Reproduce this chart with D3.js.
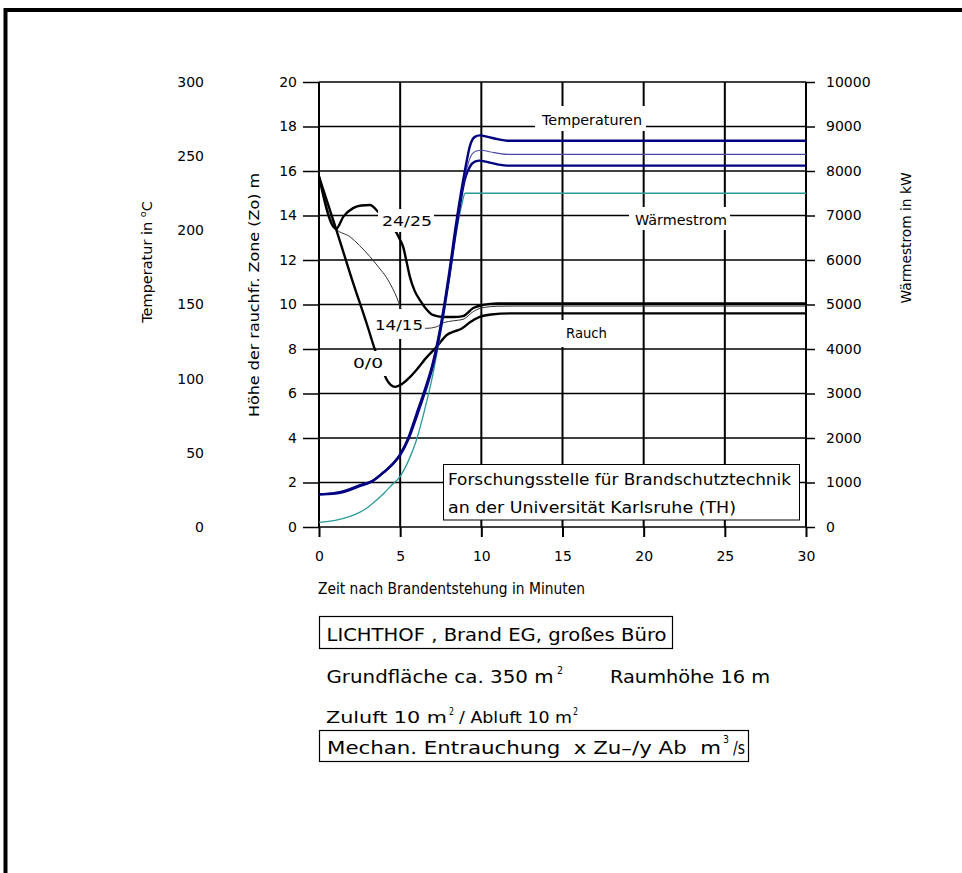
<!DOCTYPE html>
<html><head><meta charset="utf-8">
<script src="https://cdn.jsdelivr.net/npm/d3@7/dist/d3.min.js"></script>
<style>
body{margin:0;background:#fff}
svg{display:block;font-family:"DejaVu Sans",sans-serif}
text{white-space:pre}
</style>
</head><body><script>
// ---------- data ----------
const timeTicks = [0, 5, 10, 15, 20, 25, 30];
const heightTicks = [0, 2, 4, 6, 8, 10, 12, 14, 16, 18, 20];
const tempTicks = [0, 50, 100, 150, 200, 250, 300];
const heatTicks = [0, 1000, 2000, 3000, 4000, 5000, 6000, 7000, 8000, 9000, 10000];

// smoke-free layer height (m) vs time (min)
const smoke_0_0 = [[0,15.75],[1.05,13.4],[2,11.2],[3,9.0],[3.45,7.96],[3.9,7.1],[4.15,6.65],[4.4,6.4],[4.7,6.3],[5.0,6.38],[5.6,6.74],[6.0,7.06],[6.6,7.6],[7.25,8.1],[7.87,8.63],[8.3,8.78],[8.8,8.92],[9.3,9.2],[9.9,9.44],[10.6,9.55],[11.8,9.6],[30,9.6]];
const smoke_14_15 = [[0,15.75],[1.05,13.4],[1.9,13.05],[2.5,12.65],[3.14,12.15],[3.7,11.65],[4.17,11.2],[4.55,10.7],[4.8,10.3],[5.0,9.9],[5.5,9.3],[6.0,9.0],[6.63,8.93],[7.25,9.0],[7.64,9.17],[8.3,9.27],[8.87,9.33],[9.5,9.68],[10.1,9.86],[11,9.92],[12,9.93],[30,9.93]];
const smoke_24_25 = [[0,15.75],[1.05,13.4],[1.5,13.95],[2.1,14.33],[2.6,14.45],[3.14,14.47],[3.65,14.16],[4.0,13.9],[4.4,13.6],[4.74,13.26],[5.0,12.9],[5.18,12.6],[5.4,11.9],[5.6,11.24],[5.9,10.6],[6.22,10.2],[6.6,9.8],[7.0,9.53],[7.64,9.44],[8.3,9.44],[8.87,9.48],[9.5,9.84],[10.1,9.98],[11,10.05],[30,10.05]];

// temperatures (°C) vs time (min)
const temp_upper = [[0,22],[1,23],[1.5,24],[2.5,28],[3.3,31],[4,37],[4.5,42],[5,49],[5.5,60],[6,76],[6.5,92],[7,110],[7.45,133],[7.66,146],[8,170],[8.48,207],[9,241],[9.3,257],[9.6,263],[9.9,264],[10.4,263],[11,261.5],[11.6,260.4],[30,260.4]];
const temp_mid = [[0,22],[1,23],[1.5,24.5],[2.5,28.5],[3.3,31.5],[4,37.5],[4.5,42.5],[5,49],[5.5,60],[6,75],[6.5,91],[7,109],[7.45,132],[7.66,145],[8,168],[8.48,205],[9,237],[9.4,251],[9.7,253.5],[10,254],[10.5,253],[11.6,251.2],[30,251.2]];
const temp_lower = [[0,22],[1,22.5],[1.5,23.5],[2.5,27.5],[3.3,31],[4,37],[4.5,42],[5,48.5],[5.5,59],[6,74],[6.5,90],[7,108],[7.45,131],[7.66,144],[8,167],[8.48,203],[9,235],[9.3,243],[9.6,246.3],[9.9,247],[10.4,246],[11,244.5],[11.6,243.6],[30,243.6]];

// heat release (kW) vs time (min)
const heatFlow = [[0,105],[1,150],[2,250],[2.5,330],[3,440],[3.5,590],[4,760],[4.5,950],[5,1140],[5.5,1480],[6,1950],[6.5,2620],[7,3400],[7.45,4280],[7.8,5000],[8.1,5750],[8.5,6700],[8.8,7250],[9.0,7500],[30,7500]];

// ---------- drawing ----------
const W = 962, H = 873;
const svg = d3.select("body").append("svg").attr("width", W).attr("height", H);

const x = d3.scaleLinear([0, 30], [319, 806]);
const yH = d3.scaleLinear([0, 20], [527, 82]);
const yT = d3.scaleLinear([0, 300], [527, 82]);
const yQ = d3.scaleLinear([0, 10000], [527, 82]);

// frame
svg.append("path").attr("d", "M5.5,873V10H962").attr("fill", "none").attr("stroke", "#000").attr("stroke-width", 4);

// grid
const grid = svg.append("g").attr("stroke", "#000");
grid.selectAll("line.h").data(heightTicks).join("line")
  .attr("x1", x(0)).attr("x2", x(30)).attr("y1", d => yH(d)).attr("y2", d => yH(d)).attr("stroke-width", 1.5);
grid.selectAll("line.v").data(timeTicks).join("line")
  .attr("y1", yH(0)).attr("y2", yH(20)).attr("x1", d => x(d)).attr("x2", d => x(d)).attr("stroke-width", 2);

// axes
function styleAxis(g) {
  g.select(".domain").remove();
  g.selectAll(".tick line").attr("stroke", "#000").attr("stroke-width", 1.5);
  g.selectAll(".tick text").attr("fill", "#000").attr("font-size", 14).attr("font-family", '"DejaVu Sans",sans-serif');
}
svg.append("g").attr("transform", "translate(319,0)")
  .call(d3.axisLeft(yH).tickValues(heightTicks).tickSize(16).tickPadding(6)).call(styleAxis);
svg.append("g").attr("transform", "translate(204,0)")
  .call(d3.axisLeft(yT).tickValues(tempTicks).tickSize(0).tickPadding(0)).call(styleAxis);
svg.append("g").attr("transform", "translate(806,0)")
  .call(d3.axisRight(yQ).tickValues(heatTicks).tickFormat(d3.format("d")).tickSize(9).tickPadding(11)).call(styleAxis);
const xa = svg.append("g").attr("transform", "translate(0,527)")
  .call(d3.axisBottom(x).tickValues(timeTicks).tickSize(10).tickPadding(14)).call(styleAxis);
xa.selectAll(".tick line").attr("stroke-width", 2);

// curves
const curve = d3.curveMonotoneX;
const lineH = d3.line().x(d => x(d[0])).y(d => yH(d[1])).curve(curve);
const lineT = d3.line().x(d => x(d[0])).y(d => yT(d[1])).curve(curve);
const lineQ = d3.line().x(d => x(d[0])).y(d => yQ(d[1])).curve(curve);
const curves = svg.append("g").attr("fill", "none").attr("stroke-linejoin", "round");

curves.append("path").attr("d", lineH(smoke_14_15)).attr("stroke", "#333").attr("stroke-width", 1);
curves.append("path").attr("d", lineH(smoke_24_25)).attr("stroke", "#000").attr("stroke-width", 2.4);
curves.append("path").attr("d", lineH(smoke_0_0)).attr("stroke", "#000").attr("stroke-width", 2.4);
curves.append("path").attr("d", lineQ(heatFlow)).attr("stroke", "#2a9a9a").attr("stroke-width", 1.3);
curves.append("path").attr("d", lineT(temp_lower)).attr("stroke", "#000080").attr("stroke-width", 2.4);
curves.append("path").attr("d", lineT(temp_mid)).attr("stroke", "#4848a8").attr("stroke-width", 1.1);
curves.append("path").attr("d", lineT(temp_upper)).attr("stroke", "#000080").attr("stroke-width", 2.4);

// curve labels with white background
const labels = svg.append("g");
function label(txt, bx, by, bw, bh, tx, ty, tl) {
  labels.append("rect").attr("x", bx).attr("y", by).attr("width", bw).attr("height", bh).attr("fill", "#fff");
  labels.append("text").attr("x", tx).attr("y", ty).attr("font-size", 14).attr("textLength", tl)
    .attr("lengthAdjust", "spacingAndGlyphs").text(txt);
}
label("Temperaturen", 535, 106, 111, 25, 542, 125, 100);
label("Wärmestrom", 629, 207, 101, 23, 635, 225, 92);
label("Rauch", 560, 320, 52, 27, 566, 338, 41);
label("24/25", 378, 209, 56, 23, 382, 226, 50);
label("14/15", 373, 309, 52, 30, 375, 330, 48);
label("0/0", 351, 351, 37, 25, 353, 368, 30);

// institute box
svg.append("rect").attr("x", 443.5).attr("y", 464.5).attr("width", 356).attr("height", 55.5)
  .attr("fill", "#fff").attr("stroke", "#000").attr("stroke-width", 1);
svg.append("text").attr("x", 448).attr("y", 485).attr("font-size", 16).attr("textLength", 343)
  .attr("lengthAdjust", "spacingAndGlyphs").text("Forschungsstelle für Brandschutztechnik");
svg.append("text").attr("x", 448).attr("y", 513).attr("font-size", 16).attr("textLength", 288)
  .attr("lengthAdjust", "spacingAndGlyphs").text("an der Universität Karlsruhe (TH)");

// axis titles
const tt = svg.append("text").attr("transform", "translate(152,262) rotate(-90)")
  .attr("text-anchor", "middle").attr("font-size", 14.5);
tt.append("tspan").text("Temperatur in ");
tt.append("tspan").attr("font-size", 9.5).attr("dy", -6).text("o");
tt.append("tspan").attr("dy", 6).text("C");
svg.append("text").attr("transform", "translate(259,295) rotate(-90)").attr("text-anchor", "middle")
  .attr("font-size", 14).attr("textLength", 244).attr("lengthAdjust", "spacingAndGlyphs")
  .text("Höhe der rauchfr. Zone (Zo) m");
svg.append("text").attr("transform", "translate(911,238) rotate(-90)").attr("text-anchor", "middle")
  .attr("font-size", 14).attr("textLength", 131).attr("lengthAdjust", "spacingAndGlyphs")
  .text("Wärmestrom in kW");
svg.append("text").attr("x", 318).attr("y", 594).attr("font-size", 15).attr("textLength", 267)
  .attr("lengthAdjust", "spacingAndGlyphs").text("Zeit nach Brandentstehung in Minuten");

// description texts
function txt(s, tx, ty, fs, tl) {
  const t = svg.append("text").attr("x", tx).attr("y", ty).attr("font-size", fs).text(s);
  if (tl) t.attr("textLength", tl).attr("lengthAdjust", "spacingAndGlyphs");
  return t;
}
svg.append("rect").attr("x", 319.5).attr("y", 616.5).attr("width", 353).attr("height", 32)
  .attr("fill", "none").attr("stroke", "#000").attr("stroke-width", 1.2);
txt("LICHTHOF , Brand EG, großes Büro", 326.5, 641, 18, 340);
txt("Grundfläche ca. 350 m", 326.5, 683, 18, 227);
txt("2", 557, 674, 11, 6);
txt("Raumhöhe 16 m", 610, 683, 18, 160);
txt("Zuluft 10 m", 326, 723, 16, 121);
txt("2", 449, 715, 10, 5);
txt("/ Abluft 10 m", 459, 723, 16, 113);
txt("2", 573, 715, 10, 5);
svg.append("rect").attr("x", 319.5).attr("y", 730.5).attr("width", 429).attr("height", 31)
  .attr("fill", "none").attr("stroke", "#000").attr("stroke-width", 1.2);
txt("Mechan. Entrauchung  x Zu–/y Ab  m", 327, 754, 18, 394);
txt("3", 723, 743, 11, 6);
txt("/s", 733, 754, 18, 12);
</script></body></html>
